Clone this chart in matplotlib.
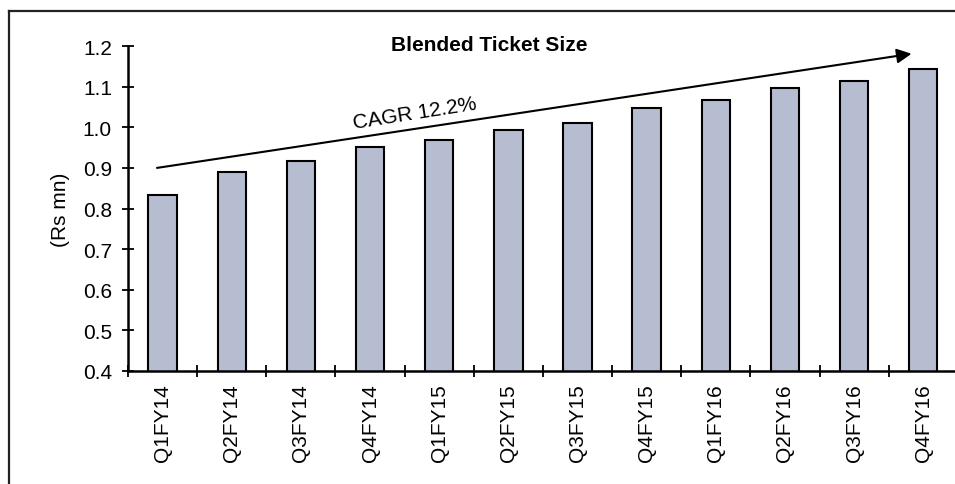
import matplotlib
matplotlib.use('Agg')
import matplotlib.pyplot as plt
from matplotlib.lines import Line2D
import numpy as np

# data
quarters = ['Q1FY14', 'Q2FY14', 'Q3FY14', 'Q4FY14',
            'Q1FY15', 'Q2FY15', 'Q3FY15', 'Q4FY15',
            'Q1FY16', 'Q2FY16', 'Q3FY16', 'Q4FY16']
ticket_size = [0.834, 0.889, 0.918, 0.951, 0.969, 0.994,
               1.011, 1.047, 1.068, 1.096, 1.113, 1.143]
y_ticks = [0.4, 0.5, 0.6, 0.7, 0.8, 0.9, 1.0, 1.1, 1.2]
chart_title = 'Blended Ticket Size'
cagr_label = 'CAGR 12.2%'
y_label = '(Rs mn)'

plt.rcParams['font.family'] = ['Liberation Sans', 'DejaVu Sans']
plt.rcParams['font.size'] = 15

fig = plt.figure(figsize=(9.55, 4.85), dpi=100)
ax = fig.add_axes([0.134, 0.233, 0.869, 0.670])

x = np.arange(len(quarters))
ax.bar(x, ticket_size, width=0.41, color='#b7bdd1',
       edgecolor='black', linewidth=1.5, zorder=2)

ax.set_xlim(-0.5, len(quarters) - 0.5)
ax.set_ylim(0.4, 1.2)
ax.set_yticks(y_ticks)
ax.set_yticklabels([f'{v:.1f}' for v in y_ticks])

# category boundaries carry the tick marks, centres carry the labels
ax.set_xticks(np.arange(len(quarters) + 1) - 0.5)
ax.set_xticklabels([])
ax.set_xticks(x, minor=True)
ax.set_xticklabels(quarters, minor=True, rotation=90)
ax.tick_params(axis='x', which='major', direction='inout', length=9,
               width=1.3, color='black')
ax.tick_params(axis='x', which='minor', length=0, pad=9)
ax.tick_params(axis='y', direction='inout', length=9, width=1.3, pad=7)

for side in ['top', 'right']:
    ax.spines[side].set_visible(False)
for side in ['left', 'bottom']:
    ax.spines[side].set_linewidth(1.8)
    ax.spines[side].set_zorder(3)

ax.set_ylabel(y_label, labelpad=9)

ax.text(4.72, 1.205, chart_title, ha='center', va='center',
        fontweight='bold', fontsize=15)

# CAGR trend arrow
ax.annotate('', xy=(10.83, 1.181), xytext=(-0.08, 0.9),
            arrowprops=dict(arrowstyle='-|>', lw=1.5, color='black',
                            mutation_scale=22, shrinkA=0, shrinkB=0))
ax.text(3.65, 1.035, cagr_label, ha='center', va='center',
        rotation=9, rotation_mode='anchor')

# outer frame (cut off on the right and bottom in the reference)
fig.add_artist(Line2D([9 / 955, 9 / 955], [0, 1 - 12 / 485],
                      transform=fig.transFigure, color='#222222', lw=1.6))
fig.add_artist(Line2D([9 / 955, 1], [1 - 12 / 485, 1 - 12 / 485],
                      transform=fig.transFigure, color='#222222', lw=1.6))

fig.savefig('out.png', dpi=100)
